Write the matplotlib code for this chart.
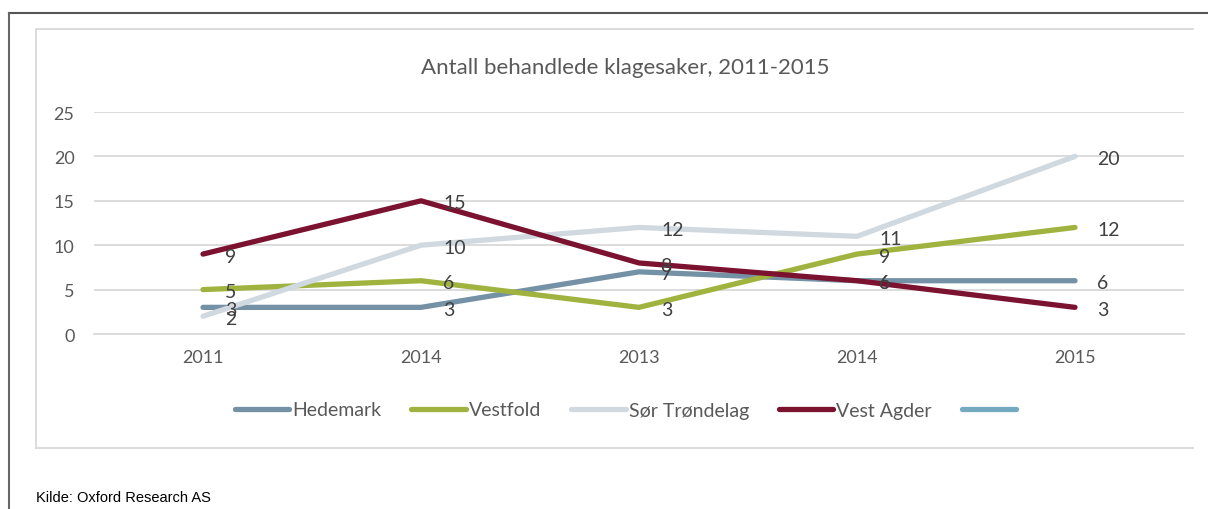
import matplotlib.pyplot as plt
from matplotlib.lines import Line2D

# kategorier og verdier lest av bildet
kategorier = ['2011', '2014', '2013', '2014', '2015']
hedemark = [3, 3, 7, 6, 6]
vestfold = [5, 6, 3, 9, 12]
sor_trondelag = [2, 10, 12, 11, 20]
vest_agder = [9, 15, 8, 6, 3]

serier = [
    ('Hedemark', hedemark, '#7591A5'),
    ('Vestfold', vestfold, '#9FB33E'),
    ('Sør Trøndelag', sor_trondelag, '#D0D9E0'),
    ('Vest Agder', vest_agder, '#7B1230'),
]

plt.rcParams['font.family'] = ['Lato', 'DejaVu Sans']

fig = plt.figure(figsize=(12.08, 5.10), dpi=100)
ax = fig.add_axes([94 / 1208, 1 - 335 / 510, 1090 / 1208, 222 / 510])

x = list(range(len(kategorier)))
for navn, verdier, farge in serier:
    ax.plot(x, verdier, color=farge, lw=3.8, solid_capstyle='round',
            solid_joinstyle='round', label=navn)
    for xi, v in zip(x, verdier):
        ax.annotate(str(v), (xi, v), xytext=(16, -1.5), textcoords='offset points',
                    ha='left', va='center', fontsize=14, color='#404040')

ax.set_xlim(-0.5, 4.5)
ax.set_ylim(0, 25)
ax.set_yticks(range(0, 26, 5))
ax.set_xticks(x)
ax.set_xticklabels(kategorier)
ax.grid(axis='y', color='#D9D9D9', lw=1.3)
ax.set_axisbelow(True)
for s in ['top', 'right', 'left']:
    ax.spines[s].set_visible(False)
ax.spines['bottom'].set_color('#D9D9D9')
ax.spines['bottom'].set_linewidth(1.3)
ax.tick_params(length=0, labelsize=13, labelcolor='#595959')
ax.tick_params(axis='y', pad=14)
ax.tick_params(axis='x', pad=11)

fig.text(625 / 1208, 1 - 68 / 510, 'Antall behandlede klagesaker, 2011-2015',
         ha='center', va='center', fontsize=16, color='#595959')

# legende, femte serie uten navn
handles, labels = ax.get_legend_handles_labels()
handles.append(Line2D([], [], color='#74AAC0', lw=3.8, solid_capstyle='round'))
labels.append('')
fig.legend(handles, labels, loc='center', bbox_to_anchor=(627 / 1208, 1 - 411 / 510),
           ncol=5, frameon=False, fontsize=14, labelcolor='#595959',
           handlelength=2.8, handletextpad=0.15, columnspacing=1.55)

# rammer rundt diagrammet
fig.add_artist(Line2D([9 / 1208, 1], [1 - 14 / 510] * 2, color='#555555', lw=1.5))
fig.add_artist(Line2D([9 / 1208] * 2, [0, 1 - 14 / 510], color='#666666', lw=1.5))
fig.add_artist(Line2D([36 / 1208, 1193 / 1208], [1 - 30 / 510] * 2, color='#D9D9D9', lw=1.3))
fig.add_artist(Line2D([36 / 1208] * 2, [1 - 449 / 510, 1 - 30 / 510], color='#D9D9D9', lw=1.3))
fig.add_artist(Line2D([36 / 1208, 1193 / 1208], [1 - 449 / 510] * 2, color='#D9D9D9', lw=1.3))

fig.text(36 / 1208, 1 - 498 / 510, 'Kilde: Oxford Research AS', ha='left', va='center',
         fontsize=10.5, color='#000000', family=['Liberation Sans Narrow', 'Liberation Sans'])

fig.savefig('out.png', dpi=100)
